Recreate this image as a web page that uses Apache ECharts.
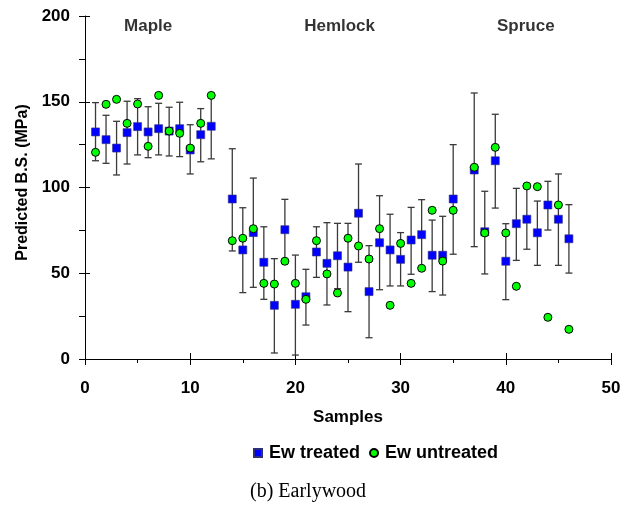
<!DOCTYPE html>
<html>
<head>
<meta charset="utf-8">
<script src="https://cdn.jsdelivr.net/npm/echarts@6/dist/echarts.min.js"></script>
<style>
  html, body { margin: 0; padding: 0; background: #fff; }
  #chart { width: 633px; height: 507px; }
</style>
</head>
<body>
<div id="chart"></div>
<script>
// sample numbers (13 and 36 are gaps between species)
const samples = [1, 2, 3, 4, 5, 6, 7, 8, 9, 10, 11, 12,
  14, 15, 16, 17, 18, 19, 20, 21, 22, 23, 24, 25, 26, 27, 28, 29, 30, 31, 32, 33, 34, 35,
  37, 38, 39, 40, 41, 42, 43, 44, 45, 46];
// Ew treated (squares)
const treated = [132.4, 127.9, 123.0, 132.0, 135.5, 132.4, 134.3, 132.9, 134.3, 121.9, 130.8, 135.7,
  93.3, 63.6, 73.7, 56.4, 31.3, 75.4, 31.9, 36.3, 62.4, 55.8, 60.2, 53.6, 85.0, 39.3, 67.8, 63.6, 58.1, 69.4, 72.5, 60.5, 60.5, 93.3,
  110.2, 74.2, 115.6, 57.0, 78.9, 81.5, 73.6, 89.8, 81.5, 70.1];
// Ew untreated (circles)
const untreated = [120.5, 148.5, 151.4, 137.4, 148.7, 124.0, 153.7, 132.9, 131.6, 123.0, 137.4, 153.7,
  69.0, 70.4, 76.0, 44.1, 43.7, 57.0, 44.1, 34.8, 69.0, 49.6, 38.5, 70.4, 65.9, 58.3, 76.0, 31.3, 67.4, 44.1, 52.9, 86.7, 57.1, 86.7,
  111.8, 73.5, 123.4, 73.5, 42.4, 100.9, 100.5, 24.3, 89.8, 17.3];
// error bar ends of the treated values
const errUpper = [149.5, 142.1, 138.6, 150.3, 151.8, 147.1, 149.1, 146.8, 149.7, 136.6, 146.0, 153.7,
  122.6, 88.2, 105.5, 77.1, 58.5, 93.1, 60.6, 52.3, 77.1, 79.5, 79.1, 79.1, 113.7, 66.1, 95.2, 84.4, 73.7, 88.4, 92.9, 81.0, 83.2, 125.0,
  155.1, 97.8, 142.7, 78.9, 99.5, 100.5, 92.1, 103.6, 107.9, 90.0];
const errLower = [115.6, 114.1, 107.3, 113.7, 119.0, 117.4, 119.0, 118.4, 118.0, 107.9, 115.0, 116.7,
  63.0, 38.7, 41.8, 34.8, 3.5, 57.5, 2.3, 19.8, 47.6, 31.5, 41.0, 27.6, 56.4, 12.4, 40.4, 42.6, 42.6, 49.4, 52.0, 39.3, 37.3, 61.1,
  65.5, 49.6, 88.0, 34.6, 57.5, 64.0, 54.6, 75.2, 54.6, 50.1];
// species labels across the top
const speciesNames = ['Maple', 'Hemlock', 'Spruce'];
const speciesX = [6, 24.2, 41.9];
const speciesY = 194;

const FONT = 'Liberation Sans, Arial, sans-serif';
const chart = echarts.init(document.getElementById('chart'));

const axisTextBold = { color: '#000', fontFamily: FONT, fontWeight: 'bold', fontSize: 17 };

const option = {
  animation: false,
  backgroundColor: '#fff',
  grid: { left: 85, right: 22, top: 16, bottom: 148 },
  legend: {
    left: 248,
    top: 439,
    itemWidth: 8,
    itemHeight: 8,
    itemGap: 9,
    data: [
      { name: 'Ew treated', icon: 'rect' },
      { name: 'Ew untreated', icon: 'circle' },
    ],
    textStyle: { color: '#000', fontFamily: FONT, fontWeight: 'bold', fontSize: 18, padding: [0, 0, 0, 2] },
  },
  xAxis: [
    {
      type: 'value',
      min: 0,
      max: 50,
      interval: 10,
      name: 'Samples',
      nameLocation: 'middle',
      nameGap: 50,
      nameTextStyle: axisTextBold,
      axisLine: { lineStyle: { color: '#000', width: 1 } },
      axisTick: { length: 6, lineStyle: { color: '#000' } },
      minorTick: { show: true, splitNumber: 2, length: 4, lineStyle: { color: '#000' } },
      axisLabel: Object.assign({ margin: 21 }, axisTextBold),
      splitLine: { show: false },
    },
    {
      // inner halves of the major ticks
      type: 'value',
      position: 'bottom',
      min: 0,
      max: 50,
      interval: 10,
      axisLine: { show: false },
      axisTick: { inside: true, length: 6, lineStyle: { color: '#000' } },
      axisLabel: { show: false },
      splitLine: { show: false },
    },
  ],
  yAxis: [
    {
      type: 'value',
      min: 0,
      max: 200,
      interval: 50,
      name: 'Predicted B.S. (MPa)',
      nameLocation: 'middle',
      nameGap: 51,
      nameTextStyle: Object.assign({}, axisTextBold, { fontSize: 16, padding: [0, 0, 0, 10] }),
      axisLine: { show: true, lineStyle: { color: '#000', width: 1 } },
      axisTick: { show: true, length: 6, lineStyle: { color: '#000' } },
      minorTick: { show: true, splitNumber: 2, length: 6, lineStyle: { color: '#000' } },
      axisLabel: Object.assign({ margin: 15 }, axisTextBold),
      splitLine: { show: false },
    },
    {
      type: 'value',
      position: 'left',
      min: 0,
      max: 200,
      interval: 50,
      axisLine: { show: false },
      axisTick: { show: true, inside: true, length: 5, lineStyle: { color: '#000' } },
      axisLabel: { show: false },
      splitLine: { show: false },
    },
  ],
  series: [
    {
      name: 'error',
      type: 'custom',
      silent: true,
      data: samples.map((s, i) => [s, errUpper[i], errLower[i]]),
      encode: { x: 0, y: [1, 2] },
      renderItem: function (params, api) {
        const x = api.value(0);
        const hi = api.coord([x, api.value(1)]);
        const lo = api.coord([x, api.value(2)]);
        const w = 3.5;
        const style = { stroke: '#3a3a3a', lineWidth: 1.3 };
        return {
          type: 'group',
          children: [
            { type: 'line', shape: { x1: hi[0], y1: hi[1], x2: lo[0], y2: lo[1] }, style: style },
            { type: 'line', shape: { x1: hi[0] - w, y1: hi[1], x2: hi[0] + w, y2: hi[1] }, style: style },
            { type: 'line', shape: { x1: lo[0] - w, y1: lo[1], x2: lo[0] + w, y2: lo[1] }, style: style },
          ],
        };
      },
      z: 1,
    },
    {
      name: 'Ew treated',
      type: 'scatter',
      symbol: 'rect',
      symbolSize: 8,
      data: samples.map((s, i) => [s, treated[i]]),
      itemStyle: { color: '#0000ff', borderColor: '#30307a', borderWidth: 0.6, opacity: 1 },
      z: 2,
    },
    {
      name: 'Ew untreated',
      type: 'scatter',
      symbol: 'circle',
      symbolSize: 8,
      data: samples.map((s, i) => [s, untreated[i]]),
      itemStyle: { color: '#00ff00', borderColor: '#000', borderWidth: 1, opacity: 1 },
      z: 3,
    },
    {
      name: 'species',
      type: 'scatter',
      silent: true,
      symbolSize: 0,
      data: speciesNames.map((n, i) => ({ name: n, value: [speciesX[i], speciesY] })),
      label: {
        show: true,
        position: 'inside',
        formatter: '{b}',
        color: '#000',
        fontFamily: FONT,
        fontWeight: 'bold',
        fontSize: 17,
      },
      z: 4,
    },
  ],
  graphic: [
    {
      type: 'text',
      left: 250,
      top: 482,
      style: { text: '(b) Earlywood', fill: '#000', font: '20px "Liberation Serif", "Times New Roman", serif' },
    },
  ],
};

chart.setOption(option);
</script>
</body>
</html>
